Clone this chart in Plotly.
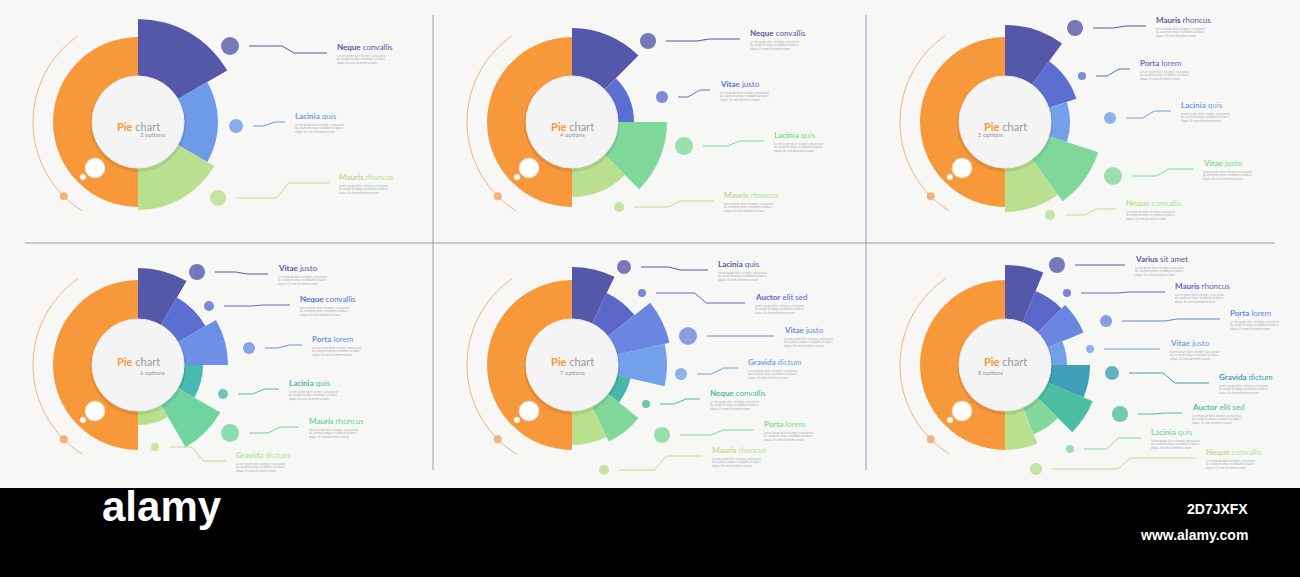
import numpy as np
import plotly.graph_objects as go

W, H = 1300, 577

# ---- data ----
labels_3 = ["Neque convallis", "Lacinia quis", "Mauris rhoncus"]
values_3 = [103, 80, 88]
labels_4 = ["Neque convallis", "Vitae justo", "Lacinia quis", "Mauris rhoncus"]
values_4 = [94, 62, 95, 75]
labels_5 = ["Mauris rhoncus", "Porta lorem", "Lacinia quis", "Vitae justo", "Neque convallis"]
values_5 = [97, 75, 65, 98, 90]
labels_6 = ["Vitae justo", "Neque convallis", "Porta lorem", "Lacinia quis", "Mauris rhoncus", "Gravida dictum"]
values_6 = [97, 78, 90, 65, 95, 60]
labels_7 = ["Lacinia quis", "Auctor elit sed", "Vitae justo", "Gravida dictum", "Neque convallis",
            "Porta lorem", "Mauris rhoncus"]
values_7 = [98, 80, 100, 95, 60, 85, 80]
labels_8 = ["Varius sit amet", "Mauris rhoncus", "Porta lorem", "Vitae justo", "Gravida dictum",
            "Auctor elit sed", "Lacinia quis", "Neque convallis"]
values_8 = [100, 80, 85, 62, 85, 95, 75, 85]
orange_value = 85

colors_3 = ["#5558a8", "#6e9be8", "#b9e08f"]
colors_4 = ["#5558a8", "#5b6fd0", "#7fd89a", "#b9e08f"]
colors_5 = ["#5558a8", "#5b6fd0", "#72a0ea", "#7fd89a", "#b9e08f"]
colors_6 = ["#5558a8", "#5b6fd0", "#6e8fe6", "#48b8b0", "#6fd4a0", "#b9e08f"]
colors_7 = ["#5558a8", "#5a67c8", "#6a86e0", "#72a0ea", "#48b8a8", "#7fd89a", "#b9e08f"]
colors_8 = ["#5558a8", "#5a67c8", "#6a86e0", "#72a0ea", "#3f9fb8", "#4cbfa2", "#84d89a", "#b9e08f"]

# ---- layout (pixel positions) ----
panels = [
    dict(c=(138, 122), labels=labels_3, vals=values_3, cols=colors_3,
         lab=[(335, 47), (293, 116), (337, 177)], dot=[(230, 46, 9), (236, 126, 7), (218, 198, 8)]),
    dict(c=(572, 122), labels=labels_4, vals=values_4, cols=colors_4,
         lab=[(748, 33), (718, 84), (772, 135), (722, 195)],
         dot=[(648, 41, 8), (662, 97, 6), (684, 146, 9), (619, 207, 5)]),
    dict(c=(1005, 122), labels=labels_5, vals=values_5, cols=colors_5,
         lab=[(1154, 20), (1138, 63), (1179, 105), (1201, 163), (1124, 203)],
         dot=[(1075, 28, 8), (1082, 76, 4), (1110, 118, 6), (1113, 176, 9), (1050, 215, 5)]),
    dict(c=(138, 365), labels=labels_6, vals=values_6, cols=colors_6,
         lab=[(276, 268), (298, 299), (310, 339), (287, 383), (307, 421), (234, 455)],
         dot=[(197, 272, 8), (209, 306, 5), (249, 348, 6), (223, 394, 5), (230, 433, 9), (155, 447, 4)]),
    dict(c=(572, 365), labels=labels_7, vals=values_7, cols=colors_7,
         lab=[(716, 264), (753, 297), (782, 330), (746, 362), (708, 393), (762, 424), (710, 450)],
         dot=[(624, 267, 7), (642, 293, 4), (688, 336, 9), (681, 374, 6), (646, 404, 4),
              (662, 435, 8), (604, 470, 5)]),
    dict(c=(1005, 365), labels=labels_8, vals=values_8, cols=colors_8,
         lab=[(1133, 259), (1173, 286), (1228, 313), (1168, 343), (1217, 377), (1190, 407),
              (1149, 432), (1204, 452)],
         dot=[(1057, 265, 8), (1067, 293, 4), (1106, 321, 6), (1090, 349, 4), (1112, 373, 7),
              (1120, 414, 8), (1070, 449, 4), (1036, 469, 6)]),
]

R = 110
R_IN = 46


def px(x):
    return x / W


def py(y):
    return 1 - y / H


fig = go.Figure()
shapes = []
annotations = []
layout_polars = {}

# separators
for x in (433, 866):
    shapes.append(dict(type="line", xref="paper", yref="paper", x0=px(x), x1=px(x), y0=py(15), y1=py(470),
                       line=dict(color="#9a9ab8", width=1)))
shapes.append(dict(type="line", xref="paper", yref="paper", x0=px(25), x1=px(1275), y0=py(243), y1=py(243),
                   line=dict(color="#9a9ab8", width=1)))

for i, p in enumerate(panels):
    cx, cy = p["c"]
    n = len(p["vals"])
    step = 180 / n
    key = "polar" if i == 0 else f"polar{i + 1}"
    layout_polars[key] = dict(
        domain=dict(x=[px(cx - R), px(cx + R)], y=[py(cy + R), py(cy - R)]),
        radialaxis=dict(range=[0, R], visible=False),
        angularaxis=dict(visible=False, rotation=90, direction="clockwise"),
        bgcolor="rgba(0,0,0,0)",
    )
    fig.add_trace(go.Barpolar(r=[orange_value], theta=[270], width=[180],
                              marker=dict(color="#f7983a", line_width=0), subplot=key, showlegend=False))
    fig.add_trace(go.Barpolar(r=p["vals"], theta=[step * (k + 0.5) for k in range(n)],
                              width=[step] * n, marker=dict(color=p["cols"], line_width=0),
                              subplot=key, showlegend=False, hovertext=p["labels"]))

    # center circle with soft shadow
    shapes.append(dict(type="circle", xref="paper", yref="paper",
                       x0=px(cx - R_IN - 2), x1=px(cx + R_IN + 2), y0=py(cy + R_IN + 4), y1=py(cy - R_IN),
                       fillcolor="rgba(0,0,0,0.08)", line_width=0))
    shapes.append(dict(type="circle", xref="paper", yref="paper",
                       x0=px(cx - R_IN), x1=px(cx + R_IN), y0=py(cy + R_IN), y1=py(cy - R_IN),
                       fillcolor="#f4f4f4", line=dict(color="#ececec", width=1)))
    annotations.append(dict(x=px(cx), y=py(cy - 4), xref="paper", yref="paper", showarrow=False,
                            text="<span style='color:#f7983a'><b>Pie</b></span> chart",
                            font=dict(size=11, color="#999999", family="Lato"), xanchor="center"))
    annotations.append(dict(x=px(cx), y=py(cy + 7), xref="paper", yref="paper", showarrow=False,
                            text=f"{n} options", font=dict(size=6, color="#999999", family="Lato")))

    # bubbles in orange ring
    for dx, dy, rr in [(-43, 46, 10), (-55, 55, 3)]:
        shapes.append(dict(type="circle", xref="paper", yref="paper",
                           x0=px(cx + dx - rr), x1=px(cx + dx + rr), y0=py(cy + dy + rr), y1=py(cy + dy - rr),
                           fillcolor="white", line=dict(color="#f0d0b0", width=1)))
    # outer arc
    ang = np.radians(np.linspace(125, 238, 40))
    path = "M " + " L ".join(f"{px(cx + 105 * np.cos(a))},{py(cy - 105 * np.sin(a))}" for a in ang)
    shapes.append(dict(type="path", xref="paper", yref="paper", path=path,
                       line=dict(color="#f2b27a", width=1)))
    a = np.radians(225)
    ox, oy = cx + 105 * np.cos(a), cy - 105 * np.sin(a)
    shapes.append(dict(type="circle", xref="paper", yref="paper", x0=px(ox - 4), x1=px(ox + 4),
                       y0=py(oy + 4), y1=py(oy - 4), fillcolor="#f2b27a", line_width=0))

    # labels, dots and connectors
    for k, name in enumerate(p["labels"]):
        lx, ly = p["lab"][k]
        dx, dy, dr = p["dot"][k]
        col = p["cols"][k]
        shapes.append(dict(type="circle", xref="paper", yref="paper",
                           x0=px(dx - dr), x1=px(dx + dr), y0=py(dy + dr), y1=py(dy - dr),
                           fillcolor=col, opacity=0.8, line_width=0))
        ty = ly + 6
        x1 = dx + dr + 10
        mid = (x1 + lx - 8) / 2
        path = (f"M {px(x1)},{py(dy)} L {px(mid - 6)},{py(dy)} L {px(mid + 6)},{py(ty)} "
                f"L {px(lx - 8)},{py(ty)}")
        shapes.append(dict(type="path", xref="paper", yref="paper", path=path,
                           line=dict(color=col, width=1)))
        w1, w2 = name.split(" ", 1)
        annotations.append(dict(x=px(lx), y=py(ly), xref="paper", yref="paper", showarrow=False,
                                xanchor="left", yanchor="middle",
                                text=f"<b>{w1}</b> {w2}", font=dict(size=8, color=col, family="Lato")))
        annotations.append(dict(x=px(lx), y=py(ly + 5), xref="paper", yref="paper", showarrow=False,
                                xanchor="left", yanchor="top", align="left",
                                text="Lorem ipsum dolor sit amet, consectetur<br>"
                                     "do eiusmod tempor incididunt ut labore<br>"
                                     "aliqua. Ut enim ad minim veniam",
                                font=dict(size=2.6, color="#a0a0a8")))

# alamy band
shapes.append(dict(type="rect", xref="paper", yref="paper", x0=0, x1=1, y0=0, y1=py(488),
                   fillcolor="#000000", line_width=0))
annotations += [
    dict(x=px(100), y=py(532), xref="paper", yref="paper", showarrow=False, text="<b>alamy</b>",
         font=dict(size=42, color="white", family="Liberation Sans")),
    dict(x=px(1250), y=py(519), xref="paper", yref="paper", showarrow=False, xanchor="right",
         text="<b>2D7JXFX</b>", font=dict(size=14, color="white", family="Liberation Sans")),
    dict(x=px(1250), y=py(545), xref="paper", yref="paper", showarrow=False, xanchor="right",
         text="<b>www.alamy.com</b>", font=dict(size=14, color="white", family="Liberation Sans")),
]

fig.update_layout(width=W, height=H, margin=dict(l=0, r=0, t=0, b=0),
                  paper_bgcolor="#f7f7f6", shapes=shapes, annotations=annotations,
                  **layout_polars)

fig.write_html("out.html", config={"displayModeBar": False},
               post_script="document.body.style.margin='0';")
